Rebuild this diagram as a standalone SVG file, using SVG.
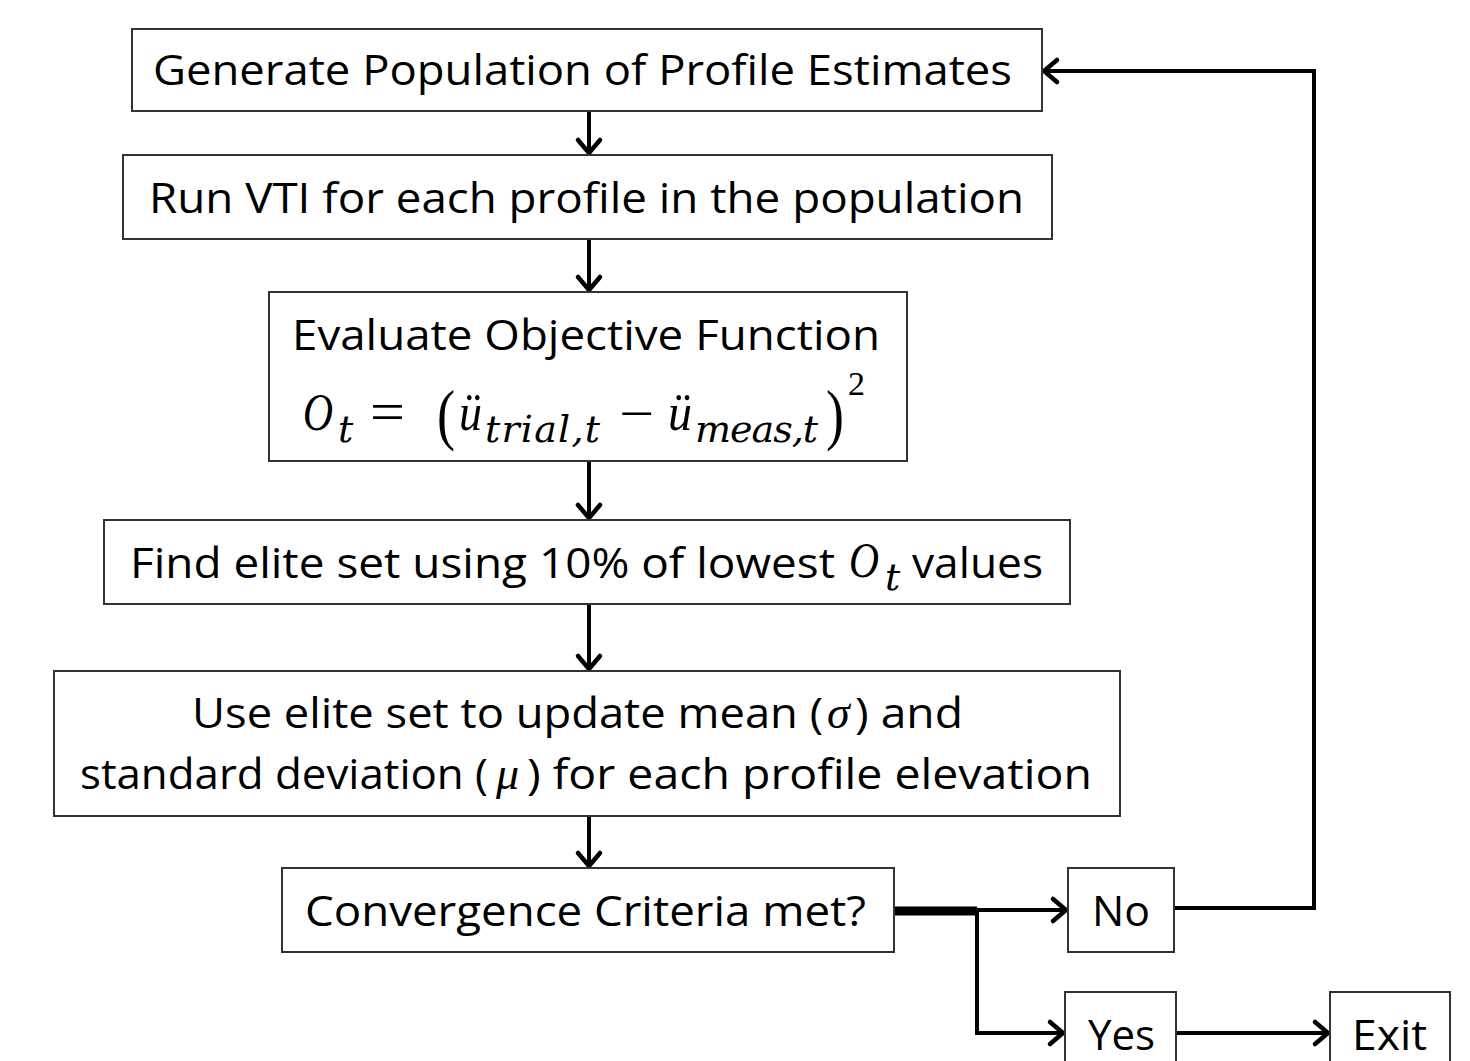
<svg xmlns="http://www.w3.org/2000/svg" width="1470" height="1061" viewBox="0 0 1470 1061">
  <style>
    .box { fill: #ffffff; stroke: #333333; stroke-width: 2; }
    .lbl { font-family: "Open Sans", "Noto Sans", "Liberation Sans", sans-serif; font-size: 42px; fill: #000000; }
    .mi { font-family: "Liberation Serif", "DejaVu Serif", serif; font-style: italic; fill: #000000; }
    .sub { font-family: "DejaVu Serif", "Liberation Serif", serif; font-style: italic; font-size: 38px; fill: #000000; }
    .mr { font-family: "Liberation Serif", "DejaVu Serif", serif; fill: #000000; }
    .wire { fill: none; stroke: #000000; stroke-width: 4; }
  </style>
  <defs>
    <marker id="chev" markerUnits="userSpaceOnUse" markerWidth="30" markerHeight="30" viewBox="-20 -15 24 30" refX="0" refY="0" orient="auto">
      <path d="M-13,-11 L0,0 L-13,11" fill="none" stroke="#000000" stroke-width="4.5" stroke-linecap="round" stroke-linejoin="miter"/>
    </marker>
  </defs>

  <rect width="1470" height="1061" fill="#ffffff"/>

  <!-- flow connectors -->
  <g id="connectors">
    <path class="wire" d="M589,111 V153" marker-end="url(#chev)"/>
    <path class="wire" d="M589,239 V290" marker-end="url(#chev)"/>
    <path class="wire" d="M589,461 V518" marker-end="url(#chev)"/>
    <path class="wire" d="M589,604 V669" marker-end="url(#chev)"/>
    <path class="wire" d="M589,816 V866" marker-end="url(#chev)"/>
    <!-- decision outlet -->
    <path d="M895,911 H977" fill="none" stroke="#000000" stroke-width="9"/>
    <path class="wire" d="M977,910 H1066" marker-end="url(#chev)"/>
    <path class="wire" d="M977,911 V1033 H1063" marker-end="url(#chev)"/>
    <path class="wire" d="M1176,1033 H1328" marker-end="url(#chev)"/>
    <!-- loop back to population generation -->
    <path class="wire" d="M1174,908 H1314 V71 H1044" marker-end="url(#chev)"/>
  </g>

  <g id="generate">
    <rect class="box" x="132" y="29" width="910" height="82"/>
    <text class="lbl" x="153" y="85" textLength="859" lengthAdjust="spacingAndGlyphs">Generate Population of Profile Estimates</text>
  </g>

  <g id="run-vti">
    <rect class="box" x="123" y="155" width="929" height="84"/>
    <text class="lbl" x="149" y="213" textLength="875" lengthAdjust="spacingAndGlyphs">Run VTI for each profile in the population</text>
  </g>

  <g id="evaluate">
    <rect class="box" x="269" y="292" width="638" height="169"/>
    <text class="lbl" x="292" y="350" textLength="588" lengthAdjust="spacingAndGlyphs">Evaluate Objective Function</text>
    <text class="mi" x="303" y="430" font-size="52" textLength="30" lengthAdjust="spacingAndGlyphs">O</text>
    <text class="sub" x="338" y="442">t</text>
    <text class="mr" x="370" y="431" font-size="56" textLength="35" lengthAdjust="spacingAndGlyphs">=</text>
    <text class="mr" x="437" y="437" font-size="68" textLength="18" lengthAdjust="spacingAndGlyphs">(</text>
    <text class="mi" x="459" y="430" font-size="52" textLength="23" lengthAdjust="spacingAndGlyphs">ü</text>
    <text class="sub" x="485" y="442" textLength="115" lengthAdjust="spacing">trial,t</text>
    <text class="mr" x="619" y="431" font-size="52" textLength="35" lengthAdjust="spacingAndGlyphs">−</text>
    <text class="mi" x="668" y="430" font-size="52" textLength="24" lengthAdjust="spacingAndGlyphs">ü</text>
    <text class="sub" x="695" y="442" textLength="123" lengthAdjust="spacing">meas,t</text>
    <text class="mr" x="826" y="437" font-size="68" textLength="18" lengthAdjust="spacingAndGlyphs">)</text>
    <text class="mr" x="848" y="395" font-size="34">2</text>
  </g>

  <g id="elite-set">
    <rect class="box" x="104" y="520" width="966" height="84"/>
    <text class="lbl" x="130" y="578" textLength="705" lengthAdjust="spacingAndGlyphs">Find elite set using 10% of lowest</text>
    <text class="mi" x="849" y="577" font-size="50" textLength="30" lengthAdjust="spacingAndGlyphs">O</text>
    <text class="sub" x="885" y="590">t</text>
    <text class="lbl" x="912" y="578" textLength="131" lengthAdjust="spacingAndGlyphs">values</text>
  </g>

  <g id="update">
    <rect class="box" x="54" y="671" width="1066" height="145"/>
    <text class="lbl" x="192" y="728" textLength="631" lengthAdjust="spacingAndGlyphs">Use elite set to update mean (</text>
    <text class="mi" x="827" y="728" font-size="46">σ</text>
    <text class="lbl" x="855" y="728" textLength="108" lengthAdjust="spacingAndGlyphs">) and</text>
    <text class="lbl" x="80" y="789" textLength="408" lengthAdjust="spacingAndGlyphs">standard deviation (</text>
    <text class="mi" x="496" y="789" font-size="46">μ</text>
    <text class="lbl" x="527" y="789" textLength="565" lengthAdjust="spacingAndGlyphs">) for each profile elevation</text>
  </g>

  <g id="convergence">
    <rect class="box" x="282" y="868" width="612" height="84"/>
    <text class="lbl" x="305" y="926" textLength="561" lengthAdjust="spacingAndGlyphs">Convergence Criteria met?</text>
  </g>

  <g id="no">
    <rect class="box" x="1068" y="868" width="106" height="84"/>
    <text class="lbl" x="1092" y="926" textLength="58" lengthAdjust="spacingAndGlyphs">No</text>
  </g>

  <g id="yes">
    <rect class="box" x="1065" y="992" width="111" height="84"/>
    <text class="lbl" x="1088" y="1050" textLength="67" lengthAdjust="spacingAndGlyphs">Yes</text>
  </g>

  <g id="exit">
    <rect class="box" x="1330" y="992" width="120" height="84"/>
    <text class="lbl" x="1352" y="1050" textLength="75" lengthAdjust="spacingAndGlyphs">Exit</text>
  </g>
</svg>
